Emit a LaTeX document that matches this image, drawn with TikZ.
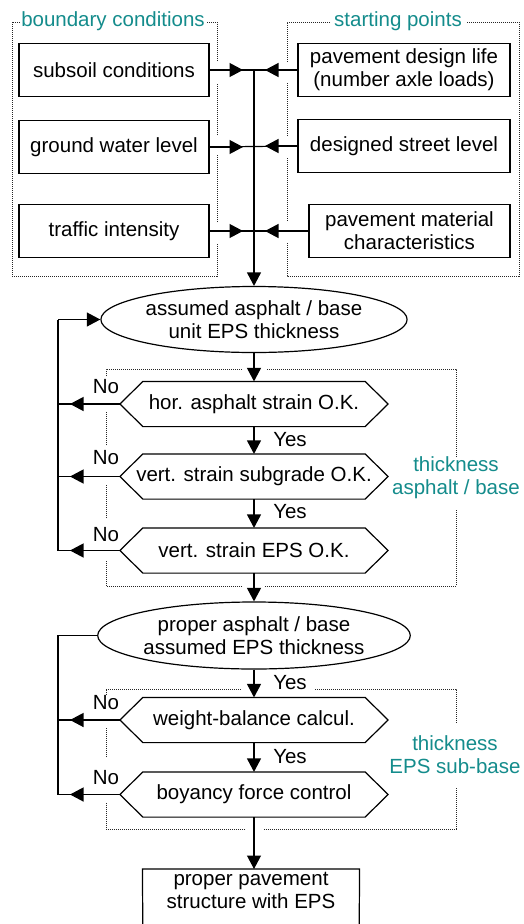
\documentclass[tikz,border=0pt]{standalone}
\usepackage{fontspec}
\setmainfont{Liberation Sans}
\usetikzlibrary{arrows.meta,shapes.geometric}
\definecolor{lblc}{RGB}{20,140,140}
\newcommand\hexpath[1]{\draw ([xshift=23pt]#1.north west) -- ([xshift=-23pt]#1.north east) -- (#1.east) -- ([xshift=-23pt]#1.south east) -- ([xshift=23pt]#1.south west) -- (#1.west) -- cycle;}
\begin{document}
\begin{tikzpicture}[x=1pt,y=-1pt, line width=1.2pt,
  every node/.style={font=\fontsize{20.5}{23}\selectfont, inner sep=0pt},
  box/.style={draw, minimum height=53pt},
  oval/.style={draw, ellipse, minimum width=275pt, minimum height=66pt, align=center},
  hexnode/.style={minimum width=267pt, minimum height=44pt},
  arr/.style={-{Triangle[length=13.5pt,width=14pt]}},
  dots/.style={densely dotted, line width=1pt, black!85},
  lbl/.style={text=lblc},
  ]
\useasboundingbox (0,0) rectangle (524,924);
\fill[white] (0,0) rectangle (524,924);

% group labels
\node[lbl, anchor=base] (bc) at (113,26) {boundary conditions};
\node[lbl, anchor=base] (sp) at (398,26) {starting points};

% dotted group frames
\draw[dots] (20,22) -- (12,22) -- (12,276) -- (217,276) -- (217,243);
\draw[dots] (217,222) -- (217,155);
\draw[dots] (217,135) -- (217,83);
\draw[dots] (217,61) -- (217,22) -- (207,22);
\draw[dots] (330,22) -- (287,22) -- (287,62);
\draw[dots] (287,83) -- (287,137);
\draw[dots] (287,158) -- (287,222);
\draw[dots] (287,243) -- (287,276) -- (519,276) -- (519,22) -- (466,22);

% input boxes
\node[box, minimum width=190pt] (L1) at (114,70) {subsoil conditions};
\node[box, minimum width=190pt] (L2) at (114,147) {ground water level};
\node[box, minimum width=190pt] (L3) at (114,231) {traffic intensity};
\node[box, minimum width=212pt, align=center] (R1) at (404,70) {pavement design life\\(number axle loads)};
\node[box, minimum width=212pt] (R2) at (404,146) {designed street level};
\node[box, minimum width=201pt, align=center] (R3) at (409.5,231) {pavement material\\characteristics};

\coordinate (tipL) at (243,0);
\coordinate (tipR) at (265,0);
\coordinate (T0) at (254,70);

\foreach \a/\b in {L1/R1,L2/R2,L3/R3}{
  \draw (\a.east) -- (\b.west);
  \draw[arr] (\a.east) -- (\a.east -| tipL);
  \draw[arr] (\b.west) -- (\b.west -| tipR);
}

% first loop
\node[oval] (E1) at (254,319.5) {assumed asphalt / base\\unit EPS thickness};
\draw[arr] (T0) -- (T0 |- E1.north);

\node[hexnode] (H1) at (254,404) {hor. asphalt strain O.K.};
\node[hexnode] (H2) at (254,476.5) {vert. strain subgrade O.K.};
\node[hexnode] (H3) at (254,550.5) {vert. strain EPS O.K.};
\hexpath{H1}\hexpath{H2}\hexpath{H3}

\draw[arr] (E1.south) -- (H1.north);
\draw[arr] (H1.south) -- (H2.north);
\draw[arr] (H2.south) -- (H3.north);

\coordinate (LA) at (58,319.5);
\coordinate (tipN) at (70,0);
\draw (H3.west) -- (H3.west -| LA) -- (LA);
\draw[arr] (LA) -- (E1.west);
\foreach \h in {H1,H2,H3}{
  \draw (\h.west) -- (\h.west -| LA);
  \draw[arr] (\h.west) -- (\h.west -| tipN);
}

\node (n1) at (106,387) {No};
\node (n2) at (106,458) {No};
\node (n3) at (106,535) {No};
\node (y1) at (290,440) {Yes};
\node (y2) at (290,512) {Yes};

\draw[dots] (106,376) -- (106,369) -- (242,369);
\draw[dots] (267,369) -- (456,369) -- (456,457);
\draw[dots] (456,510) -- (456,586) -- (265,586);
\draw[dots] (242,586) -- (106,586) -- (106,560);
\draw[dots] (106,518) -- (106,485);
\draw[dots] (106,445) -- (106,412);
\node[lbl, align=center] (t1) at (456,478) {thickness\\asphalt / base};

% second loop
\node[oval, minimum height=67pt] (E2) at (254,635.5) {proper asphalt / base\\assumed EPS thickness};
\draw[arr] (H3.south) -- (E2.north);

\node[hexnode] (H4) at (254,720) {weight-balance calcul.};
\node[hexnode] (H5) at (254,794.5) {boyancy force control};
\hexpath{H4}\hexpath{H5}

\draw[arr] (E2.south) -- (H4.north);
\draw[arr] (H4.south) -- (H5.north);

\draw (E2.west) -- (E2.west -| LA) -- (H5.west -| LA) -- (H5.west);
\foreach \h in {H4,H5}{
  \draw (\h.west) -- (\h.west -| LA);
  \draw[arr] (\h.west) -- (\h.west -| tipN);
}

\node (n4) at (106,703) {No};
\node (n5) at (106,778) {No};
\node (y3) at (290,683) {Yes};
\node (y4) at (290,757) {Yes};

\draw[dots] (106,695) -- (106,689) -- (242,689);
\draw[dots] (315,689) -- (456,689) -- (456,723);
\draw[dots] (456,788) -- (456,829) -- (263,829);
\draw[dots] (245,829) -- (106,829) -- (106,803);
\draw[dots] (106,757) -- (106,728);
\node[lbl, align=center] (t2) at (455,755) {thickness\\EPS sub-base};

% result
\node[anchor=north, minimum width=216pt, align=center, inner ysep=3pt] (F) at (251,869) {proper pavement\\structure with EPS};
\draw (143,950) -- (F.north west) -- (F.north east) -- (359,950);
\draw[arr] (H5.south) -- (H5.south |- F.north);
\end{tikzpicture}
\end{document}
